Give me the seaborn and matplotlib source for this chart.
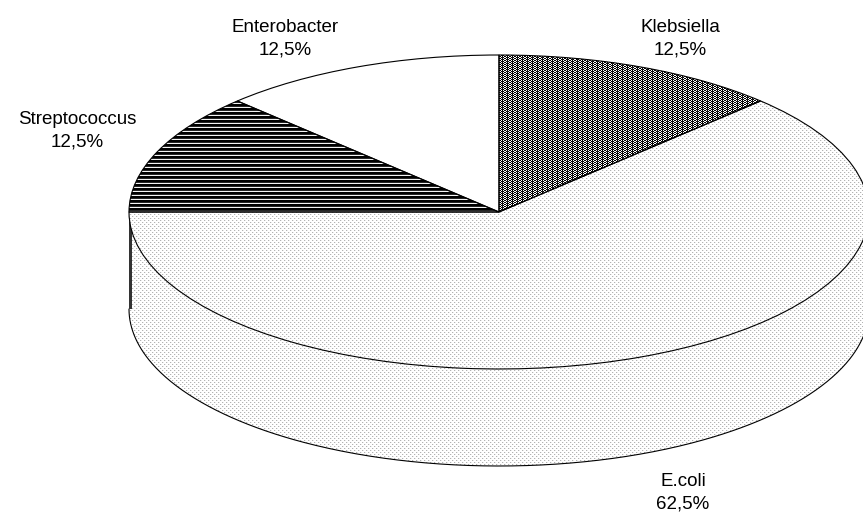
import numpy as np
import matplotlib
matplotlib.use('Agg')
import matplotlib.pyplot as plt
from matplotlib.patches import Polygon
import seaborn as sns

sns.set_theme(style='white')
plt.rcParams['font.family'] = ['Liberation Sans', 'DejaVu Sans']

# data
categories = ['Klebsiella', 'E.coli', 'Streptococcus', 'Enterobacter']
values = [12.5, 62.5, 12.5, 12.5]

W, H = 863, 512
CX, CY = 499, 212
RX, RY = 370, 157
DEPTH = 97


def to_x(px):
    return (px - CX) / RX


def to_y(py):
    return (CY - py) / RY


def texture(tile):
    tile = np.array(tile, dtype=float)
    reps = (H // tile.shape[0] + 1, W // tile.shape[1] + 1)
    return np.tile(tile, reps)[:H, :W]


# pixel patterns of the old office chart
tex_kleb = texture([[0, 1, 0, 1, 0], [1, 0, .1, 0, 1]])
tex_ecoli = texture([[.7, .92, 1, 1], [1, 1, 1, 1], [1, 1, .7, .92], [1, 1, 1, 1]])
tex_strep = texture([[0], [0], [.15], [.95]])

fig = plt.figure(figsize=(W / 100, H / 100), dpi=100)
ax = fig.add_axes([0, 0, 1, 1])

wedges, _ = ax.pie(values, startangle=90, counterclock=False, colors=['white'] * 4,
                   wedgeprops={'edgecolor': 'black', 'linewidth': 0.8})
ax.set_aspect('auto')
ext = [to_x(0), to_x(W), to_y(H), to_y(0)]


def fill(tex, patch, z):
    im = ax.imshow(tex, cmap='gray', vmin=0, vmax=1, extent=ext, aspect='auto',
                   interpolation='nearest', zorder=z)
    im.set_clip_path(patch)


# side wall of the cake
t = np.linspace(np.pi, 2 * np.pi, 400)
d = DEPTH / RY
top_edge = np.column_stack([np.cos(t), np.sin(t)])
low_edge = np.column_stack([np.cos(t), np.sin(t) - d])
wall = Polygon(np.vstack([top_edge, low_edge[::-1]]), closed=True, facecolor='none',
               edgecolor='none', zorder=0.5)
ax.add_patch(wall)
fill(tex_ecoli, wall, 0.6)
ax.plot(low_edge[:, 0], low_edge[:, 1], color='black', lw=0.8, zorder=0.9)
strip = Polygon([[-1, 0], [to_x(132), 0], [to_x(132), -d], [-1, -d]], closed=True,
                facecolor='#333333', edgecolor='none', zorder=0.95)
ax.add_patch(strip)

for w, tex in zip(wedges, [tex_kleb, tex_ecoli, tex_strep, None]):
    w.set_zorder(2)
    w.set_facecolor('none')
    if tex is not None:
        fill(tex, w, 1.5)

ax.set_xlim(to_x(0), to_x(W))
ax.set_ylim(to_y(H), to_y(0))

label_pos = [(680, 38.5), (683, 492.5), (77, 130.5), (285, 38.5)]
for name, v, (lx, ly) in zip(categories, values, label_pos):
    txt = f'{name}\n' + f'{v:.1f}%'.replace('.', ',')
    ax.text(to_x(lx), to_y(ly), txt, ha='center', va='center', fontsize=13.5,
            color='black', linespacing=1.42, zorder=5)

fig.savefig('out.png', dpi=100)
